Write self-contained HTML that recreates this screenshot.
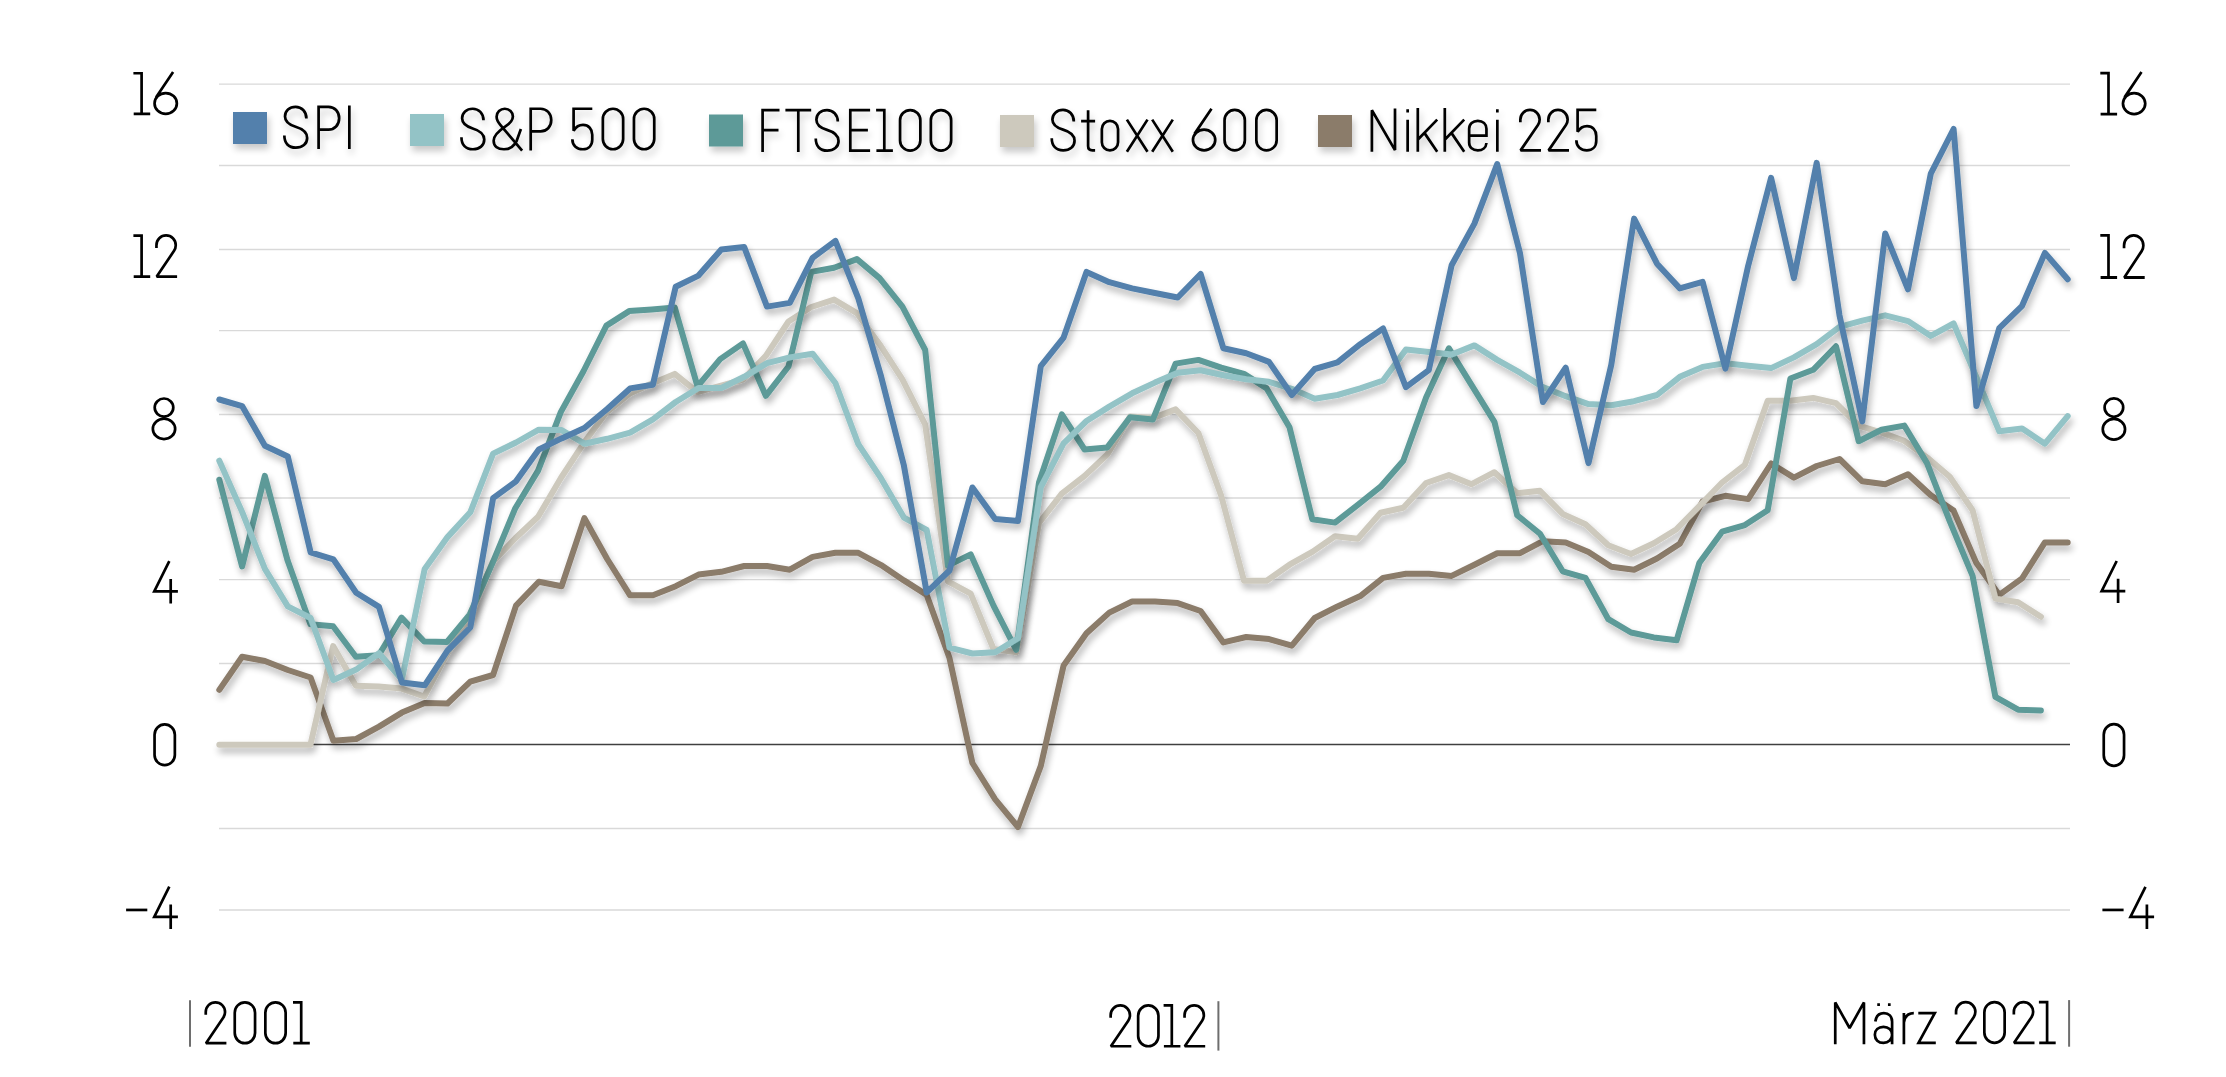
<!DOCTYPE html><html><head><meta charset="utf-8"><style>html,body{margin:0;padding:0;background:#fff;overflow:hidden}svg{display:block}</style></head><body>
<svg width="2226" height="1077" viewBox="0 0 2226 1077">
<defs>
<filter id="sh" x="-5%" y="-5%" width="110%" height="120%">
<feGaussianBlur in="SourceAlpha" stdDeviation="3.6"/><feOffset dx="2" dy="4.5" result="b"/>
<feComponentTransfer><feFuncA type="linear" slope="0.3"/></feComponentTransfer>
<feMerge><feMergeNode/><feMergeNode in="SourceGraphic"/></feMerge></filter>
<filter id="tsh" x="-10%" y="-20%" width="120%" height="160%">
<feGaussianBlur in="SourceAlpha" stdDeviation="3.5"/><feOffset dx="2" dy="5" result="b"/>
<feComponentTransfer><feFuncA type="linear" slope="0.22"/></feComponentTransfer>
<feMerge><feMergeNode/><feMergeNode in="SourceGraphic"/></feMerge></filter>
</defs>
<rect width="2226" height="1077" fill="#fff"/>
<line x1="219" y1="84.1" x2="2070" y2="84.1" stroke="#d9d9d9" stroke-width="1.3"/>
<line x1="219" y1="165.5" x2="2070" y2="165.5" stroke="#d9d9d9" stroke-width="1.3"/>
<line x1="219" y1="249.5" x2="2070" y2="249.5" stroke="#d9d9d9" stroke-width="1.3"/>
<line x1="219" y1="330.6" x2="2070" y2="330.6" stroke="#d9d9d9" stroke-width="1.3"/>
<line x1="219" y1="414.5" x2="2070" y2="414.5" stroke="#d9d9d9" stroke-width="1.3"/>
<line x1="219" y1="498.0" x2="2070" y2="498.0" stroke="#d9d9d9" stroke-width="1.3"/>
<line x1="219" y1="579.6" x2="2070" y2="579.6" stroke="#d9d9d9" stroke-width="1.3"/>
<line x1="219" y1="663.5" x2="2070" y2="663.5" stroke="#d9d9d9" stroke-width="1.3"/>
<line x1="219" y1="828.5" x2="2070" y2="828.5" stroke="#d9d9d9" stroke-width="1.3"/>
<line x1="219" y1="910.0" x2="2070" y2="910.0" stroke="#d9d9d9" stroke-width="1.3"/>
<line x1="219" y1="744.5" x2="2070" y2="744.5" stroke="#404040" stroke-width="1.4"/>
<g fill="none" stroke-width="6" stroke-linejoin="round" stroke-linecap="round">
<polyline filter="url(#sh)" stroke="#8b7b6a" points="219.3,689.9 242.1,656.8 264.9,661.0 287.8,670.0 310.6,677.5 333.4,740.7 356.2,739.0 379.0,726.6 401.9,712.6 424.7,703.1 447.5,703.5 470.3,681.6 493.1,675.0 516.0,605.6 538.8,581.7 561.6,586.2 584.4,518.1 607.2,559.0 630.1,595.3 652.9,595.3 675.7,586.2 698.5,574.6 721.3,571.8 744.2,566.0 767.0,566.0 789.8,569.7 812.6,556.9 835.4,552.8 858.3,552.8 881.1,565.1 903.9,580.4 926.7,594.9 949.5,658.1 972.4,763.0 995.2,799.3 1018.0,827.0 1040.8,765.9 1063.6,665.5 1086.5,633.3 1109.3,612.6 1132.1,601.5 1154.9,601.5 1177.7,603.1 1200.6,611.0 1223.4,642.4 1246.2,637.0 1269.0,639.1 1291.8,645.7 1314.7,618.0 1337.5,606.4 1360.3,596.1 1383.1,577.9 1405.9,573.8 1428.8,573.8 1451.6,575.9 1474.4,564.7 1497.2,553.2 1520.0,553.2 1542.9,541.2 1565.7,542.4 1588.5,551.9 1611.3,566.8 1634.1,569.7 1657.0,558.5 1679.8,543.7 1702.6,501.5 1725.4,495.8 1748.2,499.1 1771.1,463.5 1793.9,477.6 1816.7,466.0 1839.5,459.0 1862.3,481.3 1885.2,484.2 1908.0,474.3 1930.8,495.3 1953.6,510.6 1976.4,563.1 1999.3,594.9 2022.1,578.4 2044.9,542.4 2067.7,542.4"/>
<polyline filter="url(#sh)" stroke="#cdc9bd" points="219.3,744.8 242.1,744.8 264.8,744.8 287.6,744.8 310.4,744.8 333.1,646.1 355.9,685.7 378.7,686.6 401.5,688.6 424.2,696.5 447.0,653.9 469.8,616.8 492.5,562.3 515.3,538.3 538.1,516.8 560.9,478.0 583.6,443.3 606.4,412.3 629.2,393.8 651.9,383.4 674.7,373.9 697.5,392.1 720.2,385.9 743.0,379.7 765.8,355.8 788.5,321.5 811.3,307.0 834.1,299.6 856.9,313.2 879.6,344.2 902.4,379.3 925.2,424.7 947.9,581.3 970.7,593.6 993.5,649.0 1016.2,652.3 1039.0,523.0 1061.8,493.7 1084.6,475.9 1107.3,454.5 1130.1,416.5 1152.9,418.1 1175.6,409.4 1198.4,433.0 1221.2,495.8 1244.0,580.8 1266.7,580.8 1289.5,564.7 1312.3,551.9 1335.0,536.2 1357.8,538.7 1380.6,512.7 1403.3,507.7 1426.1,483.0 1448.9,475.1 1471.6,484.2 1494.4,472.2 1517.2,493.3 1540.0,490.8 1562.7,513.9 1585.5,524.3 1608.3,545.3 1631.0,554.0 1653.8,543.3 1676.6,529.2 1699.3,506.1 1722.1,482.5 1744.9,464.8 1767.7,400.8 1790.4,400.8 1813.2,397.9 1836.0,403.2 1858.7,425.6 1881.5,432.6 1904.3,440.8 1927.0,457.4 1949.8,476.8 1972.6,510.2 1995.4,598.6 2018.1,602.3 2040.9,616.8"/>
<polyline filter="url(#sh)" stroke="#5d9a98" points="219.3,479.7 242.1,566.4 264.8,475.9 287.6,560.6 310.4,624.2 333.1,626.3 355.9,656.8 378.7,655.2 401.5,617.6 424.2,641.5 447.0,642.0 469.8,614.3 492.5,563.1 515.3,508.2 538.1,470.6 560.9,411.9 583.6,371.0 606.4,325.6 629.2,311.1 651.9,309.5 674.7,307.4 697.5,386.3 720.2,359.1 743.0,343.4 765.8,395.8 788.5,366.5 811.3,271.9 834.1,267.8 856.9,259.1 879.6,278.1 902.4,306.6 925.2,350.0 947.9,565.6 970.7,554.4 993.5,605.6 1016.2,649.8 1039.0,482.5 1061.8,414.4 1084.6,449.5 1107.3,447.4 1130.1,417.3 1152.9,419.4 1175.6,363.6 1198.4,359.9 1221.2,367.7 1244.0,373.9 1266.7,388.4 1289.5,427.2 1312.3,519.3 1335.0,522.6 1357.8,504.8 1380.6,486.7 1403.3,460.7 1426.1,397.5 1448.9,348.3 1471.6,385.1 1494.4,421.8 1517.2,515.2 1540.0,533.8 1562.7,571.3 1585.5,577.9 1608.3,619.2 1631.0,632.5 1653.8,637.4 1676.6,640.3 1699.3,563.1 1722.1,531.7 1744.9,525.1 1767.7,510.2 1790.4,378.5 1813.2,369.8 1836.0,346.3 1858.7,441.2 1881.5,429.7 1904.3,425.6 1927.0,463.1 1949.8,521.4 1972.6,575.9 1995.4,696.9 2018.1,709.7 2040.9,710.5"/>
<polyline filter="url(#sh)" stroke="#93c3c6" points="219.3,460.7 242.1,511.9 264.9,568.9 287.8,606.4 310.6,618.0 333.4,680.0 356.2,669.6 379.0,653.1 401.9,679.5 424.7,568.9 447.5,537.1 470.3,512.3 493.1,453.6 516.0,442.5 538.8,429.7 561.6,430.1 584.4,443.7 607.2,438.8 630.1,432.6 652.9,419.4 675.7,402.0 698.5,388.0 721.3,388.0 744.2,376.8 767.0,363.2 789.8,357.4 812.6,353.7 835.4,383.0 858.3,444.1 881.1,478.4 903.9,517.6 926.7,530.0 949.5,647.7 972.4,653.5 995.2,652.3 1018.0,638.2 1040.8,487.1 1063.6,443.3 1086.5,421.0 1109.3,406.6 1132.1,393.3 1154.9,382.6 1177.7,372.7 1200.6,370.2 1223.4,375.2 1246.2,379.3 1269.0,381.8 1291.8,388.8 1314.7,398.7 1337.5,395.0 1360.3,388.4 1383.1,380.5 1405.9,349.6 1428.8,352.0 1451.6,354.5 1474.4,345.4 1497.2,359.9 1520.0,372.7 1542.9,387.1 1565.7,396.2 1588.5,404.1 1611.3,405.3 1634.1,401.2 1657.0,395.0 1679.8,376.8 1702.6,366.9 1725.4,363.2 1748.2,365.7 1771.1,368.1 1793.9,357.4 1816.7,344.2 1839.5,326.8 1862.3,320.6 1885.2,315.3 1908.0,321.1 1930.8,335.9 1953.6,323.5 1976.4,377.2 1999.3,431.3 2022.1,428.4 2044.9,443.7 2067.7,416.1"/>
<polyline filter="url(#sh)" stroke="#5380ac" points="219.3,399.5 242.1,406.1 264.9,445.8 287.8,456.5 310.6,552.3 333.4,559.4 356.2,592.8 379.0,606.9 401.9,682.4 424.7,685.3 447.5,650.6 470.3,627.5 493.1,498.2 516.0,481.3 538.8,449.5 561.6,438.4 584.4,428.0 607.2,409.0 630.1,388.4 652.9,384.7 675.7,286.8 698.5,275.6 721.3,249.6 744.2,247.1 767.0,306.6 789.8,302.9 812.6,257.9 835.4,240.9 858.3,298.3 881.1,376.4 903.9,465.6 926.7,592.4 949.5,570.5 972.4,487.5 995.2,518.9 1018.0,521.0 1040.8,366.1 1063.6,337.6 1086.5,271.9 1109.3,282.2 1132.1,288.4 1154.9,293.0 1177.7,297.5 1200.6,274.0 1223.4,348.3 1246.2,353.3 1269.0,361.9 1291.8,395.0 1314.7,369.0 1337.5,362.4 1360.3,344.2 1383.1,328.5 1405.9,387.1 1428.8,370.2 1451.6,265.3 1474.4,223.6 1497.2,164.1 1520.0,253.3 1542.9,402.0 1565.7,367.7 1588.5,463.1 1611.3,364.8 1634.1,218.6 1657.0,263.7 1679.8,288.4 1702.6,281.8 1725.4,368.6 1748.2,265.7 1771.1,177.8 1793.9,278.1 1816.7,162.9 1839.5,315.3 1862.3,421.4 1885.2,233.5 1908.0,289.3 1930.8,173.6 1953.6,129.0 1976.4,406.1 1999.3,328.1 2022.1,305.8 2044.9,252.9 2067.7,279.3"/>
</g>
<g fill="none" stroke="#000" stroke-width="2.7" stroke-linejoin="miter" stroke-miterlimit="2" stroke-linecap="butt"><path transform="translate(133.4,71.9) scale(1,1.009)" d="M0,1.35 H8.2 V41.65 M0.3,41.65 H16.8"/><path transform="translate(153.2,71.9) scale(1,1.009)" d="M1.3499999999999996,31.3 A11.15,10.35 0 1 1 23.65,31.3 A11.15,10.35 0 1 1 1.3499999999999996,31.3 Z M19.9,0.2 L2.9,25.2"/><path transform="translate(133.4,234.2) scale(1,1.016)" d="M0,1.35 H8.2 V41.65 M0.3,41.65 H16.8"/><path transform="translate(155.1,234.2) scale(1,1.016)" d="M1.35,13.6 V10.9 A9.65,9.65 0 0 1 20.65,10.9 A9.65,9.65 0 0 1 18.96,16.36 L1.6,41.65 H22"/><path transform="translate(151.5,397.2) scale(1,1.005)" d="M3.1999999999999993,10.3 A9.3,9.0 0 1 1 21.8,10.3 A9.3,9.0 0 1 1 3.1999999999999993,10.3 Z M1.3499999999999996,31.55 A11.15,10.1 0 1 1 23.65,31.55 A11.15,10.1 0 1 1 1.3499999999999996,31.55 Z"/><path transform="translate(152.9,560.6) scale(1,0.995)" d="M16.4,0.6 L1.35,30.9 H25 M17.8,18.4 V43"/><path transform="translate(153.2,723.1) scale(1,1.009)" d="M1.35,11.5 A10.15,10.15 0 0 1 21.65,11.5 V31.5 A10.15,10.15 0 0 1 1.35,31.5 Z"/><path transform="translate(126.1,886.1) scale(1,0.998)" d="M0,23.9 H21.2"/><path transform="translate(152.9,886.1) scale(1,0.998)" d="M16.4,0.6 L1.35,30.9 H25 M17.8,18.4 V43"/><path transform="translate(2100.3,71.7) scale(1,1.019)" d="M0,1.35 H8.2 V41.65 M0.3,41.65 H16.8"/><path transform="translate(2121.6,71.7) scale(1,1.019)" d="M1.3499999999999996,31.3 A11.15,10.35 0 1 1 23.65,31.3 A11.15,10.35 0 1 1 1.3499999999999996,31.3 Z M19.9,0.2 L2.9,25.2"/><path transform="translate(2100.3,234.0) scale(1,1.044)" d="M0,1.35 H8.2 V41.65 M0.3,41.65 H16.8"/><path transform="translate(2122.7,234.0) scale(1,1.044)" d="M1.35,13.6 V10.9 A9.65,9.65 0 0 1 20.65,10.9 A9.65,9.65 0 0 1 18.96,16.36 L1.6,41.65 H22"/><path transform="translate(2101.4,397.1) scale(1,1.019)" d="M3.1999999999999993,10.3 A9.3,9.0 0 1 1 21.8,10.3 A9.3,9.0 0 1 1 3.1999999999999993,10.3 Z M1.3499999999999996,31.55 A11.15,10.1 0 1 1 23.65,31.55 A11.15,10.1 0 1 1 1.3499999999999996,31.55 Z"/><path transform="translate(2100.3,560.4) scale(1,0.993)" d="M16.4,0.6 L1.35,30.9 H25 M17.8,18.4 V43"/><path transform="translate(2102.4,722.8) scale(1,1.033)" d="M1.35,11.5 A10.15,10.15 0 0 1 21.65,11.5 V31.5 A10.15,10.15 0 0 1 1.35,31.5 Z"/><path transform="translate(2102.4,886.2) scale(1,0.993)" d="M0,23.9 H21.2"/><path transform="translate(2129.1,886.2) scale(1,0.993)" d="M16.4,0.6 L1.35,30.9 H25 M17.8,18.4 V43"/><path transform="translate(204.4,1001.0) scale(1,1.014)" d="M1.35,13.6 V10.9 A9.65,9.65 0 0 1 20.65,10.9 A9.65,9.65 0 0 1 18.96,16.36 L1.6,41.65 H22"/><path transform="translate(233.4,1001.0) scale(1,1.014)" d="M1.35,11.5 A10.15,10.15 0 0 1 21.65,11.5 V31.5 A10.15,10.15 0 0 1 1.35,31.5 Z"/><path transform="translate(264.0,1001.0) scale(1,1.014)" d="M1.35,11.5 A10.15,10.15 0 0 1 21.65,11.5 V31.5 A10.15,10.15 0 0 1 1.35,31.5 Z"/><path transform="translate(293.0,1001.0) scale(1,1.014)" d="M0,1.35 H8.2 V41.65 M0.3,41.65 H16.8"/><path transform="translate(1109.3,1004.1) scale(1,1.012)" d="M1.35,13.6 V10.9 A9.65,9.65 0 0 1 20.65,10.9 A9.65,9.65 0 0 1 18.96,16.36 L1.6,41.65 H22"/><path transform="translate(1136.8,1004.1) scale(1,1.012)" d="M1.35,11.5 A10.15,10.15 0 0 1 21.65,11.5 V31.5 A10.15,10.15 0 0 1 1.35,31.5 Z"/><path transform="translate(1163.6,1004.1) scale(1,1.012)" d="M0,1.35 H8.2 V41.65 M0.3,41.65 H16.8"/><path transform="translate(1183.2,1004.1) scale(1,1.012)" d="M1.35,13.6 V10.9 A9.65,9.65 0 0 1 20.65,10.9 A9.65,9.65 0 0 1 18.96,16.36 L1.6,41.65 H22"/><path transform="translate(1833.9,1000.8) scale(1,1.009)" d="M1.35,43 V1.6 L15.7,27.0 L30.05,1.6 V43"/><path transform="translate(1873.5,1000.8) scale(1,1.009)" d="M1.8,20.5 C2.6,15.0 6.0,12.15 10.3,12.15 C15.4,12.15 18.6,15.4 18.6,20.8 V43 M18.6,33.6 C18.6,38.3 15.0,41.65 10.0,41.65 C4.8,41.65 1.35,38.5 1.35,33.7 C1.35,28.9 4.8,25.8 10.0,25.8 C15.0,25.8 18.6,29.0 18.6,33.6 M5.1,2.5 V5.2 M15.8,2.5 V5.2"/><path transform="translate(1902.5,1000.8) scale(1,1.009)" d="M1.4,43 V12 M1.4,21.5 C2.4,15.0 5.8,12.15 11.3,12.15"/><path transform="translate(1917.5,1000.8) scale(1,1.009)" d="M0.8,12.15 H17.3 L1.0,41.65 H18.3"/><path transform="translate(1954.7,1000.8) scale(1,1.009)" d="M1.35,13.6 V10.9 A9.65,9.65 0 0 1 20.65,10.9 A9.65,9.65 0 0 1 18.96,16.36 L1.6,41.65 H22"/><path transform="translate(1983.0,1000.8) scale(1,1.009)" d="M1.35,11.5 A10.15,10.15 0 0 1 21.65,11.5 V31.5 A10.15,10.15 0 0 1 1.35,31.5 Z"/><path transform="translate(2012.5,1000.8) scale(1,1.009)" d="M1.35,13.6 V10.9 A9.65,9.65 0 0 1 20.65,10.9 A9.65,9.65 0 0 1 18.96,16.36 L1.6,41.65 H22"/><path transform="translate(2038.9,1000.8) scale(1,1.009)" d="M0,1.35 H8.2 V41.65 M0.3,41.65 H16.8"/></g>
<g stroke="#6e6e6e" stroke-width="2"><line x1="190" y1="1000.2" x2="190" y2="1046.8"/><line x1="1218.4" y1="1001.2" x2="1218.4" y2="1050.6"/><line x1="2069.1" y1="1000.1" x2="2069.1" y2="1046.7"/></g>
<g filter="url(#tsh)"><rect x="233" y="112" width="34" height="32" fill="#5380ac"/><rect x="410" y="114" width="34" height="32" fill="#93c3c6"/><rect x="709" y="114.5" width="34" height="32" fill="#5d9a98"/><rect x="1000" y="115" width="34" height="32" fill="#cdc9bd"/><rect x="1318" y="115" width="34" height="32" fill="#8b7b6a"/><g fill="none" stroke="#000" stroke-width="2.7" stroke-linejoin="miter" stroke-miterlimit="2" stroke-linecap="butt"><path transform="translate(283.0,105.5) scale(1,1.012)" d="M23.4,12.8 C23.4,5.8 18.6,1.35 12.6,1.35 C6.4,1.35 2.0,5.4 2.0,10.9 C2.0,16.8 6.6,19.2 12.6,21.0 C19.6,23.1 24.15,25.9 24.15,32.0 C24.15,38.0 19.4,41.65 12.8,41.65 C5.6,41.65 1.35,37.2 1.35,29.6"/><path transform="translate(317.0,105.5) scale(1,1.012)" d="M1.6,43 V1.35 H11.5 C17.5,1.35 22.15,5.9 22.15,12.6 C22.15,19.3 17.5,23.9 11.5,23.9 H1.6"/><path transform="translate(348.0,105.5) scale(1,1.012)" d="M1.35,0 V43"/><path transform="translate(460.1,107.4) scale(1,1.005)" d="M23.4,12.8 C23.4,5.8 18.6,1.35 12.6,1.35 C6.4,1.35 2.0,5.4 2.0,10.9 C2.0,16.8 6.6,19.2 12.6,21.0 C19.6,23.1 24.15,25.9 24.15,32.0 C24.15,38.0 19.4,41.65 12.8,41.65 C5.6,41.65 1.35,37.2 1.35,29.6"/><path transform="translate(492.3,107.4) scale(1,1.005)" d="M29.8,43 L8.0,17.5 C5.2,14.2 4.3,11.8 4.3,9.4 C4.3,4.6 8.0,1.35 12.5,1.35 C17.0,1.35 20.6,4.6 20.6,9.0 C20.6,13.6 17.3,16.2 12.8,19.2 C5.6,24.0 1.35,28.0 1.35,33.2 C1.35,38.7 5.6,41.65 11.6,41.65 C17.4,41.65 22.0,38.5 24.5,33.0 L28.6,21.5"/><path transform="translate(529.1,107.4) scale(1,1.005)" d="M1.6,43 V1.35 H11.5 C17.5,1.35 22.15,5.9 22.15,12.6 C22.15,19.3 17.5,23.9 11.5,23.9 H1.6"/><path transform="translate(571.0,107.4) scale(1,1.005)" d="M21.3,1.35 H2.6 V23.2 C4.8,19.6 8.3,17.45 12.0,17.45 C17.6,17.45 21.25,21.6 21.25,27.2 V32.2 C21.25,38.1 17.3,41.65 11.8,41.65 C6.1,41.65 1.35,38.2 1.35,31.6"/><path transform="translate(601.5,107.4) scale(1,1.005)" d="M1.35,11.5 A10.15,10.15 0 0 1 21.65,11.5 V31.5 A10.15,10.15 0 0 1 1.35,31.5 Z"/><path transform="translate(632.6,107.4) scale(1,1.005)" d="M1.35,11.5 A10.15,10.15 0 0 1 21.65,11.5 V31.5 A10.15,10.15 0 0 1 1.35,31.5 Z"/><path transform="translate(761.0,108.7) scale(1,1.007)" d="M18.5,1.35 H1.6 V43 M1.6,21.2 H17.5"/><path transform="translate(785.4,108.7) scale(1,1.007)" d="M0,1.35 H25.8 M12.9,1.35 V43"/><path transform="translate(814.4,108.7) scale(1,1.007)" d="M23.4,12.8 C23.4,5.8 18.6,1.35 12.6,1.35 C6.4,1.35 2.0,5.4 2.0,10.9 C2.0,16.8 6.6,19.2 12.6,21.0 C19.6,23.1 24.15,25.9 24.15,32.0 C24.15,38.0 19.4,41.65 12.8,41.65 C5.6,41.65 1.35,37.2 1.35,29.6"/><path transform="translate(848.5,108.7) scale(1,1.007)" d="M21.6,1.35 H1.8 V41.65 H21.6 M1.8,21.2 H19.4"/><path transform="translate(876.1,108.7) scale(1,1.007)" d="M0,1.35 H8.2 V41.65 M0.3,41.65 H16.8"/><path transform="translate(898.7,108.7) scale(1,1.007)" d="M1.35,11.5 A10.15,10.15 0 0 1 21.65,11.5 V31.5 A10.15,10.15 0 0 1 1.35,31.5 Z"/><path transform="translate(929.5,108.7) scale(1,1.007)" d="M1.35,11.5 A10.15,10.15 0 0 1 21.65,11.5 V31.5 A10.15,10.15 0 0 1 1.35,31.5 Z"/><path transform="translate(1050.4,108.6) scale(1,1.003)" d="M23.4,12.8 C23.4,5.8 18.6,1.35 12.6,1.35 C6.4,1.35 2.0,5.4 2.0,10.9 C2.0,16.8 6.6,19.2 12.6,21.0 C19.6,23.1 24.15,25.9 24.15,32.0 C24.15,38.0 19.4,41.65 12.8,41.65 C5.6,41.65 1.35,37.2 1.35,29.6"/><path transform="translate(1081.1,108.6) scale(1,1.003)" d="M0,12.4 H14 M7.0,1.6 V37.3 C7.0,40.3 8.6,41.65 11.3,41.65 H14.0"/><path transform="translate(1100.5,108.6) scale(1,1.003)" d="M1.35,20.25 A8.1,8.1 0 0 1 17.55,20.25 V33.55 A8.1,8.1 0 0 1 1.35,33.55 Z"/><path transform="translate(1125.9,108.6) scale(1,1.003)" d="M1.0,11.0 L21.6,43 M21.6,11.0 L1.0,43"/><path transform="translate(1151.2,108.6) scale(1,1.003)" d="M1.0,11.0 L21.6,43 M21.6,11.0 L1.0,43"/><path transform="translate(1191.6,108.6) scale(1,1.003)" d="M1.3499999999999996,31.3 A11.15,10.35 0 1 1 23.65,31.3 A11.15,10.35 0 1 1 1.3499999999999996,31.3 Z M19.9,0.2 L2.9,25.2"/><path transform="translate(1223.2,108.6) scale(1,1.003)" d="M1.35,11.5 A10.15,10.15 0 0 1 21.65,11.5 V31.5 A10.15,10.15 0 0 1 1.35,31.5 Z"/><path transform="translate(1255.0,108.6) scale(1,1.003)" d="M1.35,11.5 A10.15,10.15 0 0 1 21.65,11.5 V31.5 A10.15,10.15 0 0 1 1.35,31.5 Z"/><path transform="translate(1370.2,108.6) scale(1,1.003)" d="M1.7,43 V1.6 L24.8,41.4 V0"/><path transform="translate(1406.3,108.6) scale(1,1.003)" d="M1.35,11 V43 M1.35,0.6 V3.9"/><path transform="translate(1416.6,108.6) scale(1,1.003)" d="M1.2,-0.5 V43 M1.6,30.5 L20.6,11.0 M7.8,24.2 L20.6,43"/><path transform="translate(1443.6,108.6) scale(1,1.003)" d="M1.2,-0.5 V43 M1.6,30.5 L20.6,11.0 M7.8,24.2 L20.6,43"/><path transform="translate(1467.8,108.6) scale(1,1.003)" d="M1.35,27.0 H18.65 V20.2 C18.65,15.2 15.0,12.15 10.0,12.15 C5.0,12.15 1.35,15.2 1.35,20.2 V33.8 C1.35,38.7 5.0,41.65 10.0,41.65 C14.6,41.65 18.3,39.0 18.65,34.3"/><path transform="translate(1496.0,108.6) scale(1,1.003)" d="M1.35,11 V43 M1.35,0.6 V3.9"/><path transform="translate(1519.0,108.6) scale(1,1.003)" d="M1.35,13.6 V10.9 A9.65,9.65 0 0 1 20.65,10.9 A9.65,9.65 0 0 1 18.96,16.36 L1.6,41.65 H22"/><path transform="translate(1547.0,108.6) scale(1,1.003)" d="M1.35,13.6 V10.9 A9.65,9.65 0 0 1 20.65,10.9 A9.65,9.65 0 0 1 18.96,16.36 L1.6,41.65 H22"/><path transform="translate(1575.0,108.6) scale(1,1.003)" d="M21.3,1.35 H2.6 V23.2 C4.8,19.6 8.3,17.45 12.0,17.45 C17.6,17.45 21.25,21.6 21.25,27.2 V32.2 C21.25,38.1 17.3,41.65 11.8,41.65 C6.1,41.65 1.35,38.2 1.35,31.6"/></g></g>
</svg></body></html>
